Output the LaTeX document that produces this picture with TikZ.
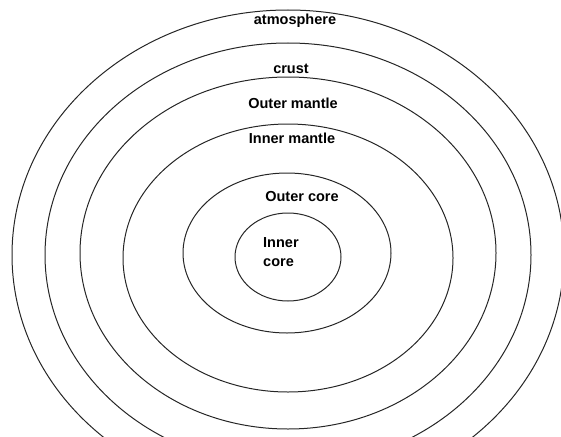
\documentclass[tikz,border=0pt]{standalone}
\usepackage{fontspec}
\setmainfont{Liberation Sans}
\usepackage{tikz}
\usetikzlibrary{positioning}

\begin{document}
\begin{tikzpicture}[
    x=1pt, y=-1pt,
    layer/.style={draw=black!85, line width=1pt},
    lbl/.style={font=\bfseries\fontsize{14.5}{19}\selectfont, inner sep=0pt},
]
    \useasboundingbox (0,0) rectangle (561,436);
    \clip (0,0) rectangle (561,436);

    % Shells, outermost first
    \draw[layer] (288,255) ellipse [x radius=276pt, y radius=245pt]; % atmosphere
    \draw[layer] (288,255) ellipse [x radius=243pt, y radius=212pt]; % crust
    \draw[layer] (288,253) ellipse [x radius=208pt, y radius=176pt]; % outer mantle
    \draw[layer] (288,258) ellipse [x radius=165pt, y radius=134pt]; % inner mantle
    \draw[layer] (287,253) ellipse [x radius=104pt, y radius=80pt];  % outer core
    \draw[layer] (288,257) ellipse [x radius=53pt, y radius=44pt];   % inner core

    % Labels
    \node[lbl] (atmo) at (295,21) {atmosphere};
    \node[lbl] (crust) at (291,69) {crust};
    \node[lbl] (omantle) at (293,103) {Outer mantle};
    \node[lbl] (imantle) at (292,138) {Inner mantle};
    \node[lbl] (ocore) at (302,197) {Outer core};
    \node[lbl, align=left, anchor=west] (icore) at (263,252) {Inner\\core};
\end{tikzpicture}
\end{document}
